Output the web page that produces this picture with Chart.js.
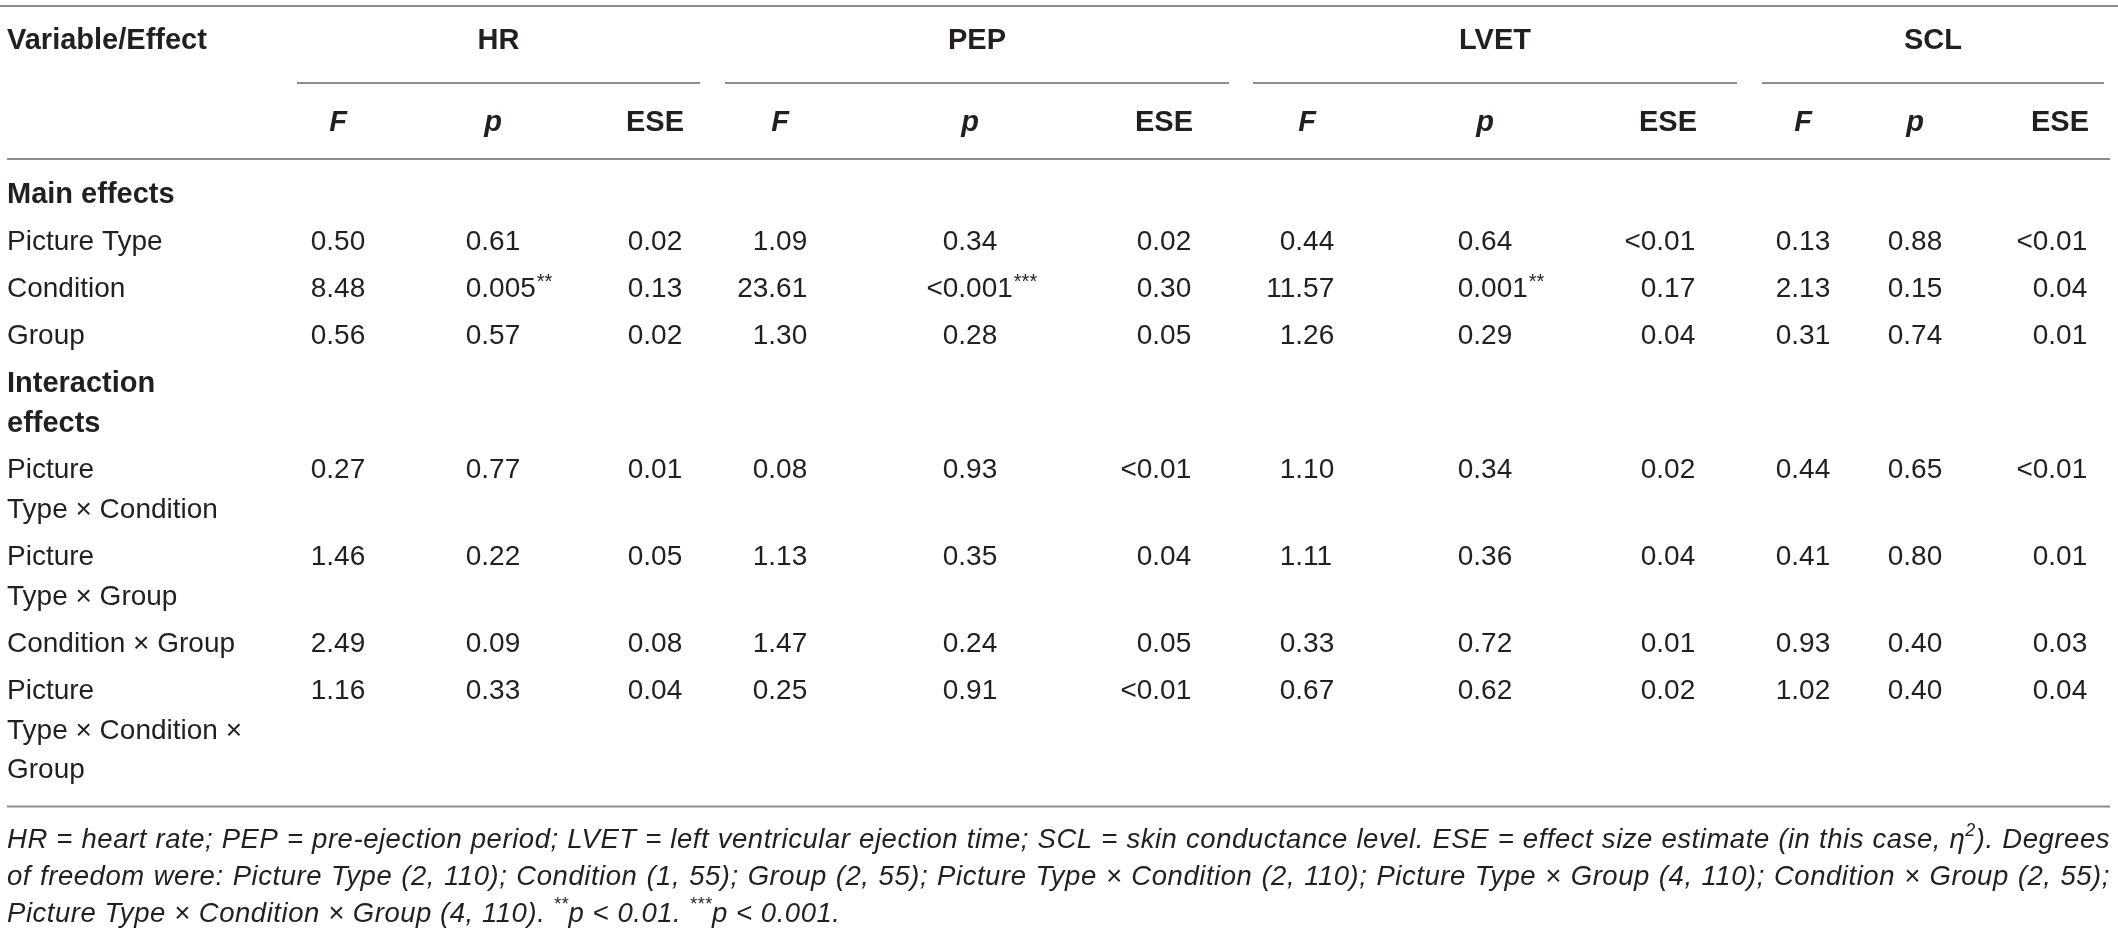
<!DOCTYPE html>
<html>
<head>
<meta charset="utf-8">
<script src="https://cdn.jsdelivr.net/npm/chart.js@4.4.1/dist/chart.umd.min.js"></script>
<style>
html,body{margin:0;padding:0;background:#fff;}
#wrap{width:2118px;height:934px;position:relative;}
</style>
</head>
<body>
<div id="wrap"><canvas id="c" width="2118" height="934"></canvas></div>
<script>
// ---------- DATA ----------
const variables = ['HR', 'PEP', 'LVET', 'SCL'];
const statLabels = ['F', 'p', 'ESE'];
const stubHeader = 'Variable/Effect';
const rowLabels = ['Main effects', 'Picture Type', 'Condition', 'Group', 'Interaction\neffects',
  'Picture\nType × Condition', 'Picture\nType × Group', 'Condition × Group', 'Picture\nType × Condition ×\nGroup'];
const rowIsSection = [true, false, false, false, true, false, false, false, false];

const HR_F    = ['0.50', '8.48', '0.56', '0.27', '1.46', '2.49', '1.16'];
const HR_p    = ['0.61', '0.005**', '0.57', '0.77', '0.22', '0.09', '0.33'];
const HR_ESE  = ['0.02', '0.13', '0.02', '0.01', '0.05', '0.08', '0.04'];
const PEP_F   = ['1.09', '23.61', '1.30', '0.08', '1.13', '1.47', '0.25'];
const PEP_p   = ['0.34', '<0.001***', '0.28', '0.93', '0.35', '0.24', '0.91'];
const PEP_ESE = ['0.02', '0.30', '0.05', '<0.01', '0.04', '0.05', '<0.01'];
const LVET_F  = ['0.44', '11.57', '1.26', '1.10', '1.11', '0.33', '0.67'];
const LVET_p  = ['0.64', '0.001**', '0.29', '0.34', '0.36', '0.72', '0.62'];
const LVET_ESE= ['<0.01', '0.17', '0.04', '0.02', '0.04', '0.01', '0.02'];
const SCL_F   = ['0.13', '2.13', '0.31', '0.44', '0.41', '0.93', '1.02'];
const SCL_p   = ['0.88', '0.15', '0.74', '0.65', '0.80', '0.40', '0.40'];
const SCL_ESE = ['<0.01', '0.04', '0.01', '<0.01', '0.01', '0.03', '0.04'];

const footnoteLines = [
  'HR = heart rate; PEP = pre-ejection period; LVET = left ventricular ejection time; SCL = skin conductance level. ESE = effect size estimate (in this case, η^{2}). Degrees',
  'of freedom were: Picture Type (2, 110); Condition (1, 55); Group (2, 55); Picture Type × Condition (2, 110); Picture Type × Group (4, 110); Condition × Group (2, 55);',
  'Picture Type × Condition × Group (4, 110). ^{**}p < 0.01. ^{***}p < 0.001.'
];

const columns = [HR_F, HR_p, HR_ESE, PEP_F, PEP_p, PEP_ESE, LVET_F, LVET_p, LVET_ESE, SCL_F, SCL_p, SCL_ESE];

// ---------- LAYOUT (page units) ----------
const L = {
  W: 2118, H: 934,
  left: 7, right: 2110,
  topRule: 6, headerY: 41, groupRuleY: 83, subY: 123, midRule: 159,
  firstRowY: 195, lineH: 39.5, rowGap: 7.75, bottomGap: 36,
  footY0: 840, footPitch: 37, footLastEnd: 890,
  colX: [338, 493, 655, 780, 970, 1164, 1307, 1485, 1668, 1803, 1915, 2060],
  groupSpans: [[297, 700], [725, 1229], [1253, 1737], [1762, 2104]]
};
const FONT = '"Liberation Sans", Arial, sans-serif';
const F_REG = '28px ' + FONT;
const F_BOLD = 'bold 29px ' + FONT;
const F_BI = 'italic bold 29px ' + FONT;
const F_SUP = '20px ' + FONT;
const F_FOOT = 'italic 27.5px ' + FONT;
const F_FOOT_SUP = 'italic 18px ' + FONT;
const TXT = '#231f20';
const RULE = '#8c8c8c';

// row y positions derived from line counts
const rowY = [];
(function () {
  let y = L.firstRowY;
  rowLabels.forEach((lab) => {
    rowY.push(y);
    const n = lab.split('\n').length;
    y += n * L.lineH + L.rowGap;
  });
})();
const lastRowLines = rowLabels[rowLabels.length - 1].split('\n').length;
const bottomRuleY = rowY[rowY.length - 1] + (lastRowLines - 1) * L.lineH + L.bottomGap;
const dataRowIdx = rowIsSection.map((s, i) => s ? -1 : i).filter(i => i >= 0);

// ---------- DATASETS ----------
const datasets = [];
datasets.push({
  label: 'stub', kind: 'stub',
  data: rowLabels.map((t, i) => ({ x: L.left, y: rowY[i], t: t, section: rowIsSection[i] })),
  pointRadius: 0
});
columns.forEach((col, c) => {
  datasets.push({
    label: variables[Math.floor(c / 3)] + ' ' + statLabels[c % 3], kind: 'val',
    data: col.map((v, k) => ({ x: L.colX[c], y: rowY[dataRowIdx[k]], t: v })),
    pointRadius: 0
  });
});

// ---------- helpers ----------
function parseRich(s) {
  const out = []; const re = /\^\{([^}]*)\}/g; let last = 0, m;
  while ((m = re.exec(s))) {
    if (m.index > last) out.push({ t: s.slice(last, m.index), sup: false });
    out.push({ t: m[1], sup: true }); last = re.lastIndex;
  }
  if (last < s.length) out.push({ t: s.slice(last), sup: false });
  return out;
}
function richWidth(ctx, s, f, fs) {
  let w = 0;
  parseRich(s).forEach(p => { ctx.font = p.sup ? fs : f; w += ctx.measureText(p.t).width; });
  return w;
}
function drawRich(ctx, s, x, y, f, fs, supRaise) {
  parseRich(s).forEach(p => {
    ctx.font = p.sup ? fs : f;
    ctx.fillText(p.t, x, p.sup ? y - supRaise : y);
    x += ctx.measureText(p.t).width;
  });
  return x;
}
function lineNatural(ctx, line) {
  const words = line.split(' ');
  const sum = words.reduce((a, w) => a + richWidth(ctx, w, F_FOOT, F_FOOT_SUP), 0);
  ctx.font = F_FOOT;
  return { sum: sum, sp: ctx.measureText(' ').width, n: words.length, chars: line.replace(/\^\{|\}/g, '').length };
}

const tablePlugin = {
  id: 'tablePlugin',
  afterDatasetsDraw(chart) {
    const ctx = chart.ctx; const xs = chart.scales.x, ys = chart.scales.y;
    const X = v => xs.getPixelForValue(v), Y = v => ys.getPixelForValue(v);
    ctx.save();
    ctx.textBaseline = 'middle';
    ctx.fillStyle = TXT;
    // rules
    ctx.strokeStyle = RULE; ctx.lineWidth = 2;
    const hline = (x0, x1, y) => { ctx.beginPath(); ctx.moveTo(X(x0), Y(y)); ctx.lineTo(X(x1), Y(y)); ctx.stroke(); };
    hline(0, L.W, L.topRule);
    hline(L.left, L.right, L.midRule);
    hline(L.left, L.right, bottomRuleY);
    L.groupSpans.forEach(s => hline(s[0], s[1], L.groupRuleY));
    // headers
    ctx.font = F_BOLD; ctx.textAlign = 'left';
    ctx.fillText(stubHeader, X(L.left), Y(L.headerY));
    ctx.textAlign = 'center';
    variables.forEach((v, i) => {
      const s = L.groupSpans[i];
      ctx.fillText(v, X((s[0] + s[1]) / 2), Y(L.headerY));
    });
    L.colX.forEach((cx, c) => {
      const lab = statLabels[c % 3];
      ctx.font = lab === 'ESE' ? F_BOLD : F_BI;
      ctx.fillText(lab, X(cx), Y(L.subY));
    });
    // cells
    chart.data.datasets.forEach((ds, di) => {
      const meta = chart.getDatasetMeta(di);
      meta.data.forEach((el, k) => {
        const d = ds.data[k];
        ctx.textAlign = 'left';
        if (ds.kind === 'stub') {
          ctx.font = d.section ? F_BOLD : F_REG;
          d.t.split('\n').forEach((line, li) => {
            ctx.fillText(line, el.x, el.y + (Y(L.lineH) - Y(0)) * li);
          });
        } else {
          ctx.font = F_REG;
          const m = d.t.match(/^(.*?)(\**)$/);
          const num = m[1], stars = m[2];
          const dot = num.indexOf('.');
          const intPart = dot >= 0 ? num.slice(0, dot) : num;
          const anchor = el.x - ctx.measureText('0.00').width / 2 + ctx.measureText('0').width;
          let x = anchor - ctx.measureText(intPart).width;
          ctx.fillText(num, x, el.y);
          x += ctx.measureText(num).width;
          if (stars) { ctx.font = F_SUP; ctx.fillText(stars, x + 1, el.y - 7); }
        }
      });
    });
    // footnote: justified except last line; light tracking so the first line fits at natural spacing
    ctx.textAlign = 'left';
    const hasLS = ('letterSpacing' in ctx);
    if (hasLS) ctx.letterSpacing = '0px';
    const target = X(L.right) - X(L.left);
    const n1 = lineNatural(ctx, footnoteLines[0]);
    const n3 = lineNatural(ctx, footnoteLines[footnoteLines.length - 1]);
    const ls1 = (target - n1.sum - n1.sp * (n1.n - 1)) / n1.chars;
    const ls3 = (X(L.footLastEnd) - X(L.left) - n3.sum - n3.sp * (n3.n - 1)) / n3.chars;
    const ls = Math.max(0, Math.min(ls1 * 0.9, ls3, 2));
    if (hasLS) ctx.letterSpacing = ls.toFixed(2) + 'px';
    footnoteLines.forEach((line, i) => {
      const y = Y(L.footY0 + i * L.footPitch);
      const words = line.split(' ');
      const widths = words.map(w => richWidth(ctx, w, F_FOOT, F_FOOT_SUP));
      const sum = widths.reduce((a, b) => a + b, 0);
      ctx.font = F_FOOT;
      const sp = ctx.measureText(' ').width;
      const last = i === footnoteLines.length - 1;
      let gap = sp, scale = 1;
      if (!last) {
        gap = (target - sum) / (words.length - 1);
        if (gap < sp * 0.8) { gap = sp * 0.8; scale = target / (sum + gap * (words.length - 1)); }
      }
      ctx.save();
      ctx.translate(X(L.left), y);
      ctx.scale(scale, 1);
      let x = 0;
      words.forEach((w, k) => { drawRich(ctx, w, x, 0, F_FOOT, F_FOOT_SUP, 9); x += widths[k] + gap; });
      ctx.restore();
    });
    ctx.restore();
  }
};

new Chart(document.getElementById('c'), {
  type: 'scatter',
  data: { datasets: datasets },
  options: {
    responsive: false, animation: false, devicePixelRatio: 1,
    layout: { padding: 0 },
    events: [],
    plugins: { legend: { display: false }, tooltip: { enabled: false } },
    scales: {
      x: { type: 'linear', min: 0, max: L.W, display: false },
      y: { type: 'linear', min: 0, max: L.H, reverse: true, display: false }
    }
  },
  plugins: [tablePlugin]
});
</script>
</body>
</html>
